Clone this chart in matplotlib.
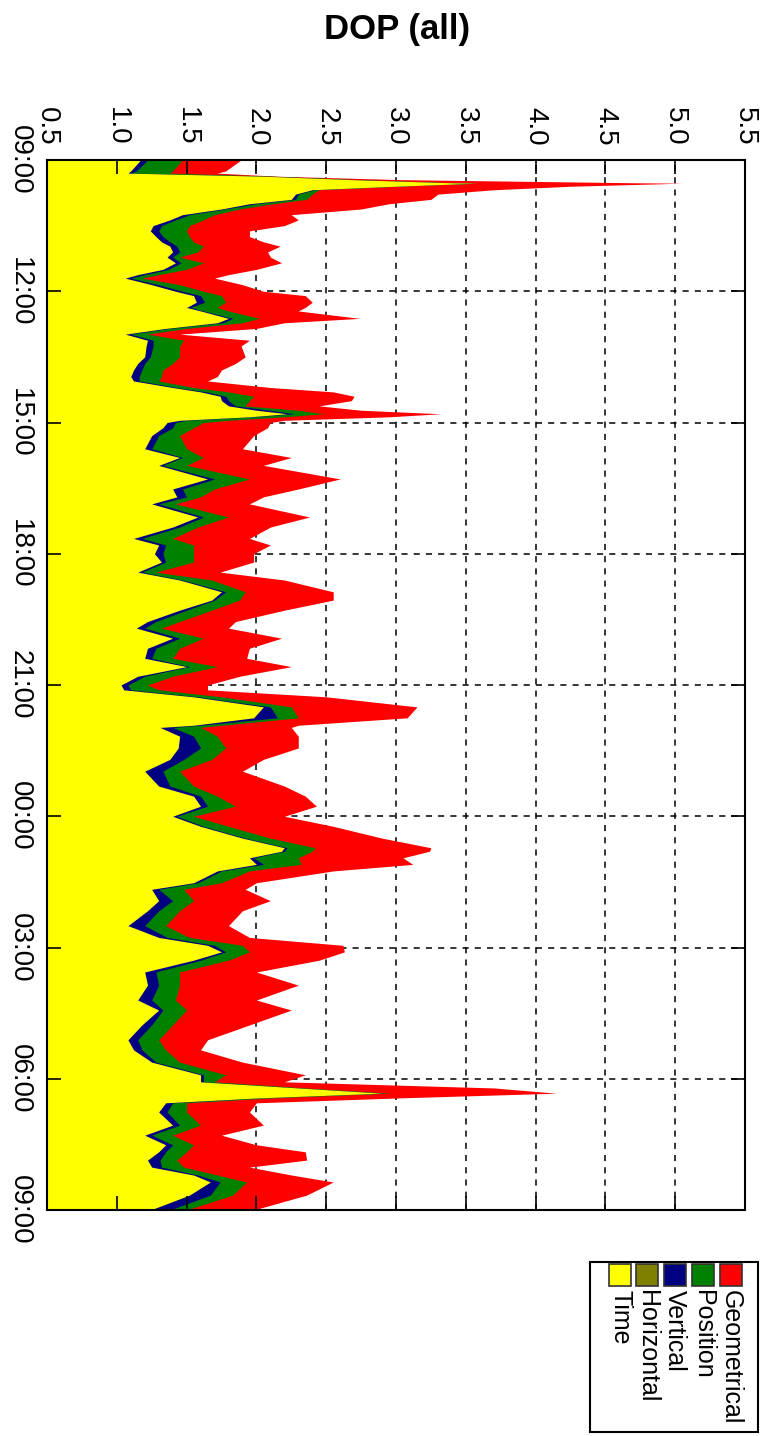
import matplotlib
matplotlib.use("Agg")
import numpy as np
from matplotlib import pyplot as plt
from matplotlib.patches import Rectangle

plt.rcParams['font.family'] = ['Liberation Sans', 'DejaVu Sans']

# Hours elapsed since 09:00 of the first day
hours = np.array([
    0.00, 0.25, 0.30, 0.37, 0.45, 0.52, 0.53, 0.60, 0.68, 0.78, 0.90, 1.00, 1.12, 1.25, 1.37,
    1.50, 1.62, 1.75, 1.87, 1.97, 2.10, 2.22, 2.35, 2.50, 2.62, 2.70, 2.85,
    3.00, 3.10, 3.25, 3.37, 3.45, 3.62, 3.72, 3.85, 3.98, 4.12, 4.25, 4.50, 4.65, 4.80, 4.95,
    5.05, 5.20, 5.30, 5.40, 5.50, 5.62, 5.72, 5.80, 5.87, 5.95,
    6.00, 6.12, 6.30, 6.60, 6.80, 6.98, 7.29, 7.52, 7.70, 7.86, 8.16, 8.39, 8.65, 8.80,
    9.00, 9.19, 9.42, 9.60, 9.87, 10.06, 10.29, 10.55, 10.70, 10.93, 11.16, 11.39, 11.58, 11.80,
    12.00, 12.11, 12.27, 12.50, 12.75, 12.92, 12.97, 13.17, 13.44, 13.70, 13.97, 14.31, 14.54, 14.77,
    15.00, 15.23, 15.50, 15.72, 15.80, 15.95, 16.10, 16.25, 16.52, 16.67, 16.93, 17.16, 17.50, 17.77, 17.95,
    18.10, 18.29, 18.56, 18.86, 19.20, 19.43, 19.77, 20.11, 20.34, 20.62, 20.91, 21.07, 21.21, 21.33,
    21.44, 21.55, 21.76, 22.06, 22.29, 22.51, 22.67, 22.86, 23.02, 23.20, 23.36, 23.66, 24.00])

gdop = np.array([
    1.89, 1.78, 1.72, 2.15, 3.05, 4.70, 5.05, 4.25, 3.70, 3.30, 3.25, 2.95, 2.75, 2.25, 2.30,
    2.20, 1.95, 1.95, 2.05, 2.17, 2.08, 2.10, 2.18, 2.00, 1.80, 1.70, 1.90,
    2.05, 2.35, 2.40, 2.35, 2.30, 2.74, 2.20, 2.00, 1.45, 1.95, 1.89, 1.92, 1.85, 1.75, 1.72,
    1.65, 2.10, 2.55, 2.70, 2.68, 2.45, 2.75, 3.32, 2.95, 2.20,
    2.10, 2.08, 1.98, 1.90, 2.25, 2.05, 2.60, 2.30, 2.05, 1.95, 2.38, 2.10, 1.95, 2.10,
    1.98, 1.98, 1.74, 2.20, 2.55, 2.55, 2.20, 1.85, 1.80, 2.18, 1.95, 1.93, 2.25, 1.88,
    1.65, 1.65, 2.50, 3.15, 3.08, 2.30, 2.25, 2.30, 2.30, 2.05, 1.90, 2.20, 2.35, 2.43,
    2.20, 2.55, 2.90, 3.25, 3.24, 3.05, 3.12, 2.55, 2.00, 1.92, 2.10, 1.90, 1.80, 1.95, 2.62,
    2.63, 2.45, 2.00, 2.30, 2.00, 2.25, 1.95, 1.65, 1.60, 1.90, 2.35, 2.20, 3.70, 4.15,
    3.00, 2.00, 1.95, 2.05, 1.75, 2.00, 2.35, 2.36, 1.95, 2.25, 2.55, 2.36, 1.98])

pdop = np.array([
    1.47, 1.40, 1.38, 2.12, 2.74, 3.40, 3.58, 3.00, 2.45, 2.40, 2.36, 2.12, 1.88, 1.70, 1.62,
    1.52, 1.50, 1.52, 1.55, 1.62, 1.58, 1.45, 1.62, 1.50, 1.30, 1.18, 1.45,
    1.62, 1.75, 1.78, 1.72, 1.80, 2.02, 1.90, 1.50, 1.22, 1.48, 1.45, 1.45, 1.40, 1.33, 1.32,
    1.30, 1.55, 1.80, 1.98, 1.95, 1.92, 2.30, 2.48, 2.20, 1.80,
    1.62, 1.55, 1.45, 1.50, 1.62, 1.50, 1.95, 1.70, 1.60, 1.42, 1.80, 1.58, 1.40, 1.55,
    1.55, 1.55, 1.28, 1.68, 1.92, 1.88, 1.68, 1.45, 1.32, 1.62, 1.45, 1.40, 1.72, 1.40,
    1.22, 1.30, 1.75, 2.25, 2.30, 1.75, 1.60, 1.72, 1.78, 1.68, 1.45, 1.55, 1.72, 1.85,
    1.55, 1.80, 2.10, 2.42, 2.40, 2.30, 2.32, 1.95, 1.75, 1.48, 1.55, 1.45, 1.35, 1.52, 1.90,
    1.95, 1.80, 1.45, 1.45, 1.42, 1.50, 1.40, 1.30, 1.35, 1.45, 1.78, 1.70, 2.35, 2.95,
    2.10, 1.50, 1.50, 1.60, 1.40, 1.55, 1.50, 1.43, 1.48, 1.72, 1.93, 1.83, 1.50])

vdop = np.array([
    1.22, 1.14, 1.10, 2.08, 2.72, 3.40, 3.58, 3.00, 2.42, 2.30, 2.28, 2.00, 1.78, 1.52, 1.42,
    1.32, 1.30, 1.33, 1.38, 1.43, 1.45, 1.40, 1.46, 1.37, 1.20, 1.10, 1.30,
    1.47, 1.60, 1.63, 1.53, 1.62, 1.83, 1.76, 1.38, 1.10, 1.26, 1.26, 1.24, 1.20, 1.18, 1.16,
    1.16, 1.43, 1.64, 1.78, 1.80, 1.85, 2.10, 2.27, 1.98, 1.50,
    1.42, 1.40, 1.30, 1.25, 1.47, 1.33, 1.70, 1.47, 1.50, 1.30, 1.62, 1.45, 1.18, 1.35,
    1.33, 1.35, 1.18, 1.47, 1.78, 1.70, 1.50, 1.28, 1.20, 1.45, 1.28, 1.25, 1.52, 1.20,
    1.08, 1.10, 1.58, 2.10, 2.15, 1.60, 1.40, 1.55, 1.60, 1.48, 1.33, 1.38, 1.60, 1.65,
    1.43, 1.62, 1.92, 2.22, 2.20, 1.98, 2.05, 1.75, 1.58, 1.30, 1.40, 1.30, 1.20, 1.36, 1.70,
    1.78, 1.60, 1.28, 1.30, 1.25, 1.33, 1.25, 1.15, 1.18, 1.28, 1.62, 1.62, 2.30, 2.90,
    2.00, 1.40, 1.36, 1.45, 1.25, 1.40, 1.35, 1.31, 1.32, 1.58, 1.74, 1.67, 1.38])

hdop = np.array([
    1.05, 0.99, 0.97, 1.80, 2.35, 2.95, 3.10, 2.62, 2.10, 2.00, 1.98, 1.72, 1.55, 1.31, 1.23,
    1.13, 1.11, 1.15, 1.18, 1.23, 1.25, 1.21, 1.27, 1.19, 1.03, 0.95, 1.12,
    1.27, 1.38, 1.40, 1.34, 1.43, 1.61, 1.53, 1.21, 0.95, 1.09, 1.08, 1.07, 1.03, 1.00, 0.98,
    1.00, 1.25, 1.43, 1.55, 1.56, 1.61, 1.78, 1.98, 1.74, 1.30,
    1.21, 1.19, 1.12, 1.07, 1.30, 1.16, 1.47, 1.25, 1.28, 1.12, 1.41, 1.25, 1.00, 1.16,
    1.13, 1.18, 1.03, 1.30, 1.56, 1.50, 1.30, 1.09, 1.02, 1.25, 1.09, 1.07, 1.34, 1.03,
    0.92, 0.94, 1.38, 1.83, 1.77, 1.38, 1.17, 1.29, 1.28, 1.23, 1.07, 1.16, 1.38, 1.43,
    1.25, 1.43, 1.70, 1.96, 1.94, 1.74, 1.78, 1.53, 1.38, 1.12, 1.16, 1.09, 0.97, 1.16, 1.47,
    1.56, 1.38, 1.07, 1.09, 1.03, 1.16, 1.05, 0.97, 1.00, 1.12, 1.43, 1.43, 2.05, 2.58,
    1.78, 1.20, 1.16, 1.25, 1.07, 1.20, 1.16, 1.09, 1.12, 1.38, 1.49, 1.36, 1.11])

tdop = np.array([
    1.17, 1.10, 1.08, 2.05, 2.70, 3.40, 3.58, 3.00, 2.40, 2.28, 2.25, 1.95, 1.75, 1.47, 1.38,
    1.26, 1.24, 1.28, 1.32, 1.38, 1.40, 1.36, 1.42, 1.33, 1.15, 1.06, 1.25,
    1.42, 1.55, 1.57, 1.50, 1.60, 1.80, 1.72, 1.35, 1.06, 1.22, 1.21, 1.20, 1.15, 1.12, 1.10,
    1.12, 1.40, 1.60, 1.74, 1.75, 1.80, 2.00, 2.22, 1.95, 1.45,
    1.36, 1.33, 1.25, 1.20, 1.45, 1.30, 1.65, 1.40, 1.43, 1.25, 1.58, 1.40, 1.12, 1.30,
    1.27, 1.32, 1.15, 1.45, 1.75, 1.68, 1.45, 1.22, 1.14, 1.40, 1.22, 1.20, 1.50, 1.15,
    1.03, 1.05, 1.55, 2.05, 1.98, 1.55, 1.31, 1.45, 1.44, 1.38, 1.20, 1.30, 1.55, 1.60,
    1.40, 1.60, 1.90, 2.20, 2.18, 1.95, 2.00, 1.72, 1.55, 1.25, 1.30, 1.22, 1.08, 1.30, 1.65,
    1.75, 1.55, 1.20, 1.22, 1.15, 1.30, 1.18, 1.08, 1.12, 1.25, 1.60, 1.60, 2.30, 2.90,
    2.00, 1.35, 1.30, 1.40, 1.20, 1.35, 1.30, 1.22, 1.25, 1.55, 1.67, 1.52, 1.24])

series_names = ['Geometrical', 'Position', 'Vertical', 'Horizontal', 'Time']
series_colors = ['#ff0000', '#008000', '#000080', '#808000', '#ffff00']

dop_ticks = [0.5, 1.0, 1.5, 2.0, 2.5, 3.0, 3.5, 4.0, 4.5, 5.0, 5.5]
time_ticks = [0, 3, 6, 9, 12, 15, 18, 21, 24]
time_labels = ['09:00', '12:00', '15:00', '18:00', '21:00', '00:00', '03:00', '06:00', '09:00']

W, H = 761, 1436
fig = plt.figure(figsize=(W / 100, H / 100), dpi=100)
ax = fig.add_axes([47 / W, (H - 1210) / H, (745 - 47) / W, (1210 - 160) / H])

# each DOP is filled from the left edge, largest first so the smaller ones sit on top
for values, color in zip([gdop, pdop, vdop, hdop, tdop], series_colors):
    ax.fill_betweenx(hours, 0.5, values, color=color, linewidth=0, zorder=1)

for x in dop_ticks[1:-1]:
    ax.axvline(x, color='black', linestyle=(0, (4, 4)), linewidth=1.1, zorder=0.5)
for t in time_ticks[1:-1]:
    ax.axhline(t, color='black', linestyle=(0, (4, 4)), linewidth=1.1, zorder=0.5)

ax.set_xlim(0.5, 5.5)
ax.set_ylim(24, 0)
ax.set_xticks(dop_ticks)
ax.set_xticklabels([f'{v:.1f}' for v in dop_ticks], rotation=-90, fontsize=20)
ax.set_yticks(time_ticks)
ax.set_yticklabels(time_labels, rotation=-90, va='center', fontsize=20)
ax.tick_params(axis='both', direction='in', length=10, width=1.2,
               top=True, bottom=True, left=True, right=True,
               labeltop=True, labelbottom=False)
ax.tick_params(axis='x', pad=10)
ax.tick_params(axis='y', pad=10)
for spine in ax.spines.values():
    spine.set_linewidth(1.5)
    spine.set_zorder(3)

fig.text(397 / W, 1 - 30 / H, 'DOP (all)', ha='center', va='center',
         fontsize=25, fontweight='bold')

# legend box drawn by hand so the entries can be turned sideways
fig.patches.append(Rectangle((590 / W, (H - 1432) / H), 168 / W, 170 / H,
                             transform=fig.transFigure, facecolor='white',
                             edgecolor='black', linewidth=1.5))
swatch_left = [720, 692, 664, 636, 609]
for name, color, left in zip(series_names, series_colors, swatch_left):
    fig.patches.append(Rectangle((left / W, (H - 1286) / H), 22 / W, 22 / H,
                                 transform=fig.transFigure, facecolor=color,
                                 edgecolor='#333333', linewidth=1.2))
    fig.text((left + 11) / W, 1 - 1290 / H, name, rotation=-90,
             ha='center', va='top', fontsize=18)

fig.savefig('out.png', dpi=100)
